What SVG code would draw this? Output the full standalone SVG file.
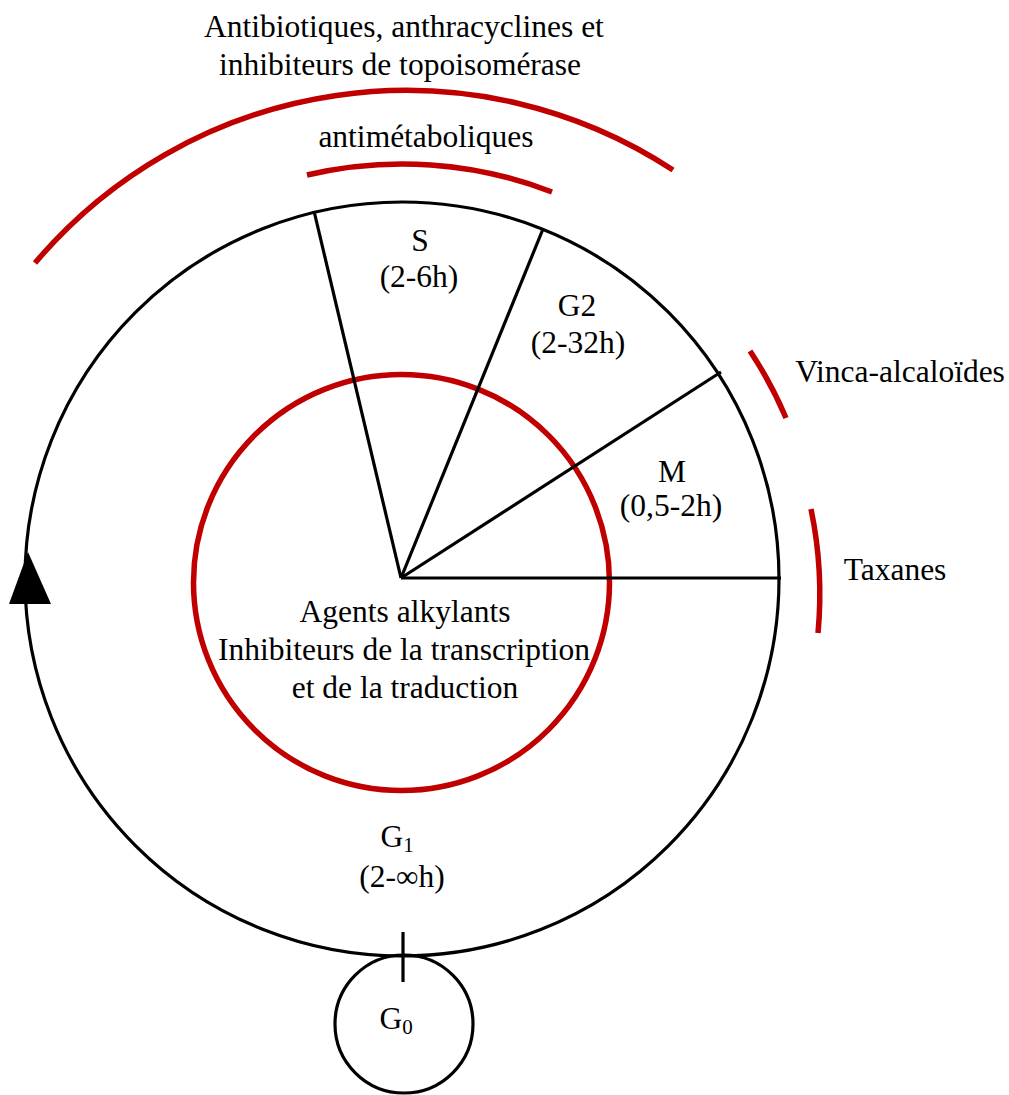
<svg xmlns="http://www.w3.org/2000/svg" width="1009" height="1095" viewBox="0 0 1009 1095">
<style>
.t{font-family:"Liberation Serif","Times New Roman",serif;font-size:31.5px;fill:#000;text-anchor:middle}
.s{font-size:21px}
.blk{fill:none;stroke:#000;stroke-width:3.2}
.red{fill:none;stroke:#c00000;stroke-width:5.5}
</style>
<rect width="1009" height="1095" fill="#fff"/>
<g id="cycle">
<circle class="blk" cx="402" cy="579" r="377"/>
</g>
<g id="g0">
<circle class="blk" cx="404" cy="1024" r="69"/>
<text class="t" x="396" y="1029">G<tspan class="s" dy="5">0</tspan></text>
</g>
<g id="inner">
<circle class="red" cx="401.5" cy="582.5" r="208"/>
<text class="t" x="405" y="622">Agents alkylants</text>
<text class="t" x="404" y="660">Inhibiteurs de la transcription</text>
<text class="t" x="405" y="698">et de la traduction</text>
</g>
<g id="connectors">
<line class="blk" x1="401" y1="578" x2="314" y2="211"/>
<line class="blk" x1="401" y1="578" x2="543" y2="229"/>
<line class="blk" x1="401" y1="578" x2="721" y2="372"/>
<line class="blk" x1="401" y1="578" x2="781" y2="578"/>
<line class="blk" x1="403" y1="932" x2="403" y2="982"/>
<polygon points="28,552 9,604 51,604" fill="#000"/>
</g>
<g id="S"><text class="t" x="420" y="251">S</text><text class="t" x="419" y="287">(2-6h)</text></g>
<g id="G2"><text class="t" x="577" y="316">G2</text><text class="t" x="578" y="353">(2-32h)</text></g>
<g id="M"><text class="t" x="672" y="482">M</text><text class="t" x="671" y="516">(0,5-2h)</text></g>
<g id="G1"><text class="t" x="397" y="847">G<tspan class="s" dy="5">1</tspan></text><text class="t" x="402" y="887">(2-∞h)</text></g>
<g id="antibiotiques">
<path class="red" d="M 35 263 A 486 486 0 0 1 673 170"/>
<text class="t" x="404" y="37">Antibiotiques, anthracyclines et</text>
<text class="t" x="400" y="75">inhibiteurs de topoisomérase</text>
</g>
<g id="antimetaboliques">
<path class="red" d="M 307 175 A 414 414 0 0 1 552 192"/>
<text class="t" x="426" y="147">antimétaboliques</text>
</g>
<g id="vinca">
<path class="red" d="M 750 351 A 416 416 0 0 1 786 418"/>
<text class="t" x="900" y="382">Vinca-alcaloïdes</text>
</g>
<g id="taxanes">
<path class="red" d="M 811 509 A 417 417 0 0 1 818 633"/>
<text class="t" x="895" y="580">Taxanes</text>
</g>
</svg>
